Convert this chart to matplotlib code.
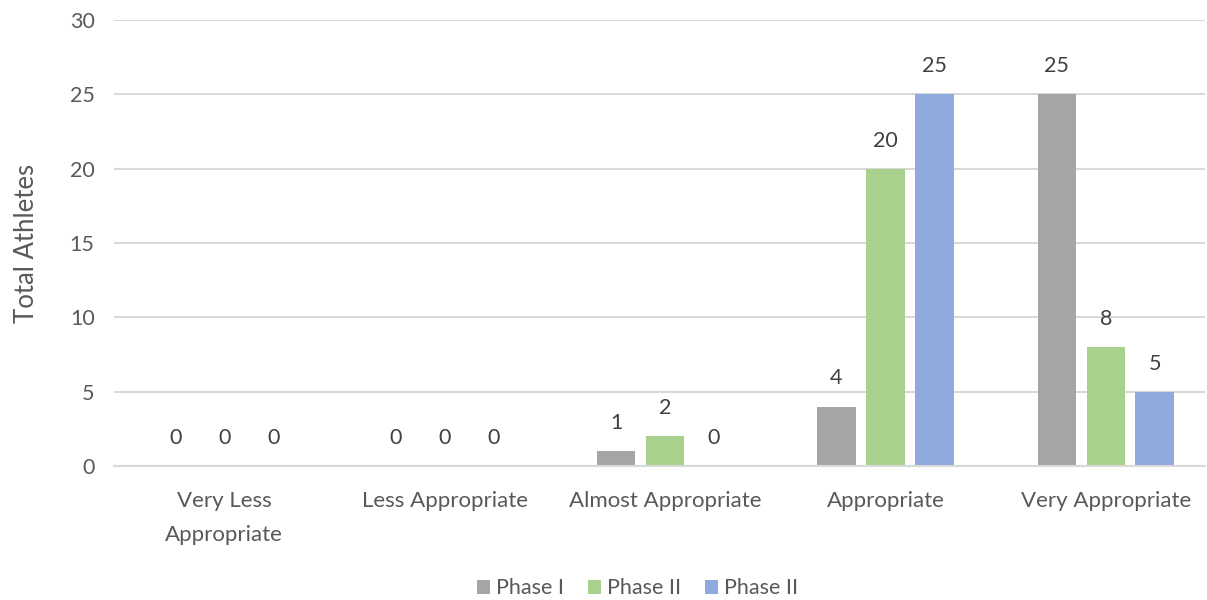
import numpy as np
import matplotlib.pyplot as plt

categories = ["Very Less\nAppropriate", "Less Appropriate", "Almost Appropriate",
              "Appropriate", "Very Appropriate"]
phase_1 = [0, 0, 1, 4, 25]
phase_2 = [0, 0, 2, 20, 8]
phase_2b = [0, 0, 0, 25, 5]
series_names = ["Phase I", "Phase II", "Phase II"]
colors = ["#a5a5a5", "#a9d18e", "#8faadc"]

plt.rcParams['font.family'] = ['Lato', 'DejaVu Sans']
txt = "#595959"

fig = plt.figure(figsize=(12.07, 6.0), dpi=100)
ax = fig.add_axes([114 / 1207, 1 - 466 / 600, (1205 - 114) / 1207, (466 - 20) / 600])

x = np.arange(len(categories))
step = 0.222
width = 0.175
for i, (vals, name, c) in enumerate(zip([phase_1, phase_2, phase_2b], series_names, colors)):
    bars = ax.bar(x + (i - 1) * step, vals, width, color=c, label=name, zorder=2)
    ax.bar_label(bars, padding=13, fontsize=15.5, color="#404040")

ax.set_ylim(0, 30)
ax.set_xlim(-0.5, 4.45)
ax.set_yticks(range(0, 31, 5))
ax.yaxis.grid(True, color="#d9d9d9", lw=1.5, zorder=0)
ax.set_axisbelow(True)
for s in ax.spines.values():
    s.set_visible(False)
ax.spines['bottom'].set_visible(True)
ax.spines['bottom'].set_color("#d9d9d9")
ax.spines['bottom'].set_linewidth(1.5)
ax.tick_params(axis='both', length=0, labelsize=15.5, colors=txt, pad=14)
ax.tick_params(axis='x', pad=18, labelsize=16)
ax.set_xticks(x)
ax.set_xticklabels(categories, linespacing=1.85)
ax.set_ylabel("Total Athletes", fontsize=18.5, color=txt, labelpad=22)

ax.legend(loc="lower center", bbox_to_anchor=(0.5 - 0.02, -0.34), ncol=3, frameon=False,
          fontsize=15.5, labelcolor=txt, handlelength=0.6, handleheight=0.6,
          handletextpad=0.3, columnspacing=1.1)

fig.savefig("out.png", dpi=100)
